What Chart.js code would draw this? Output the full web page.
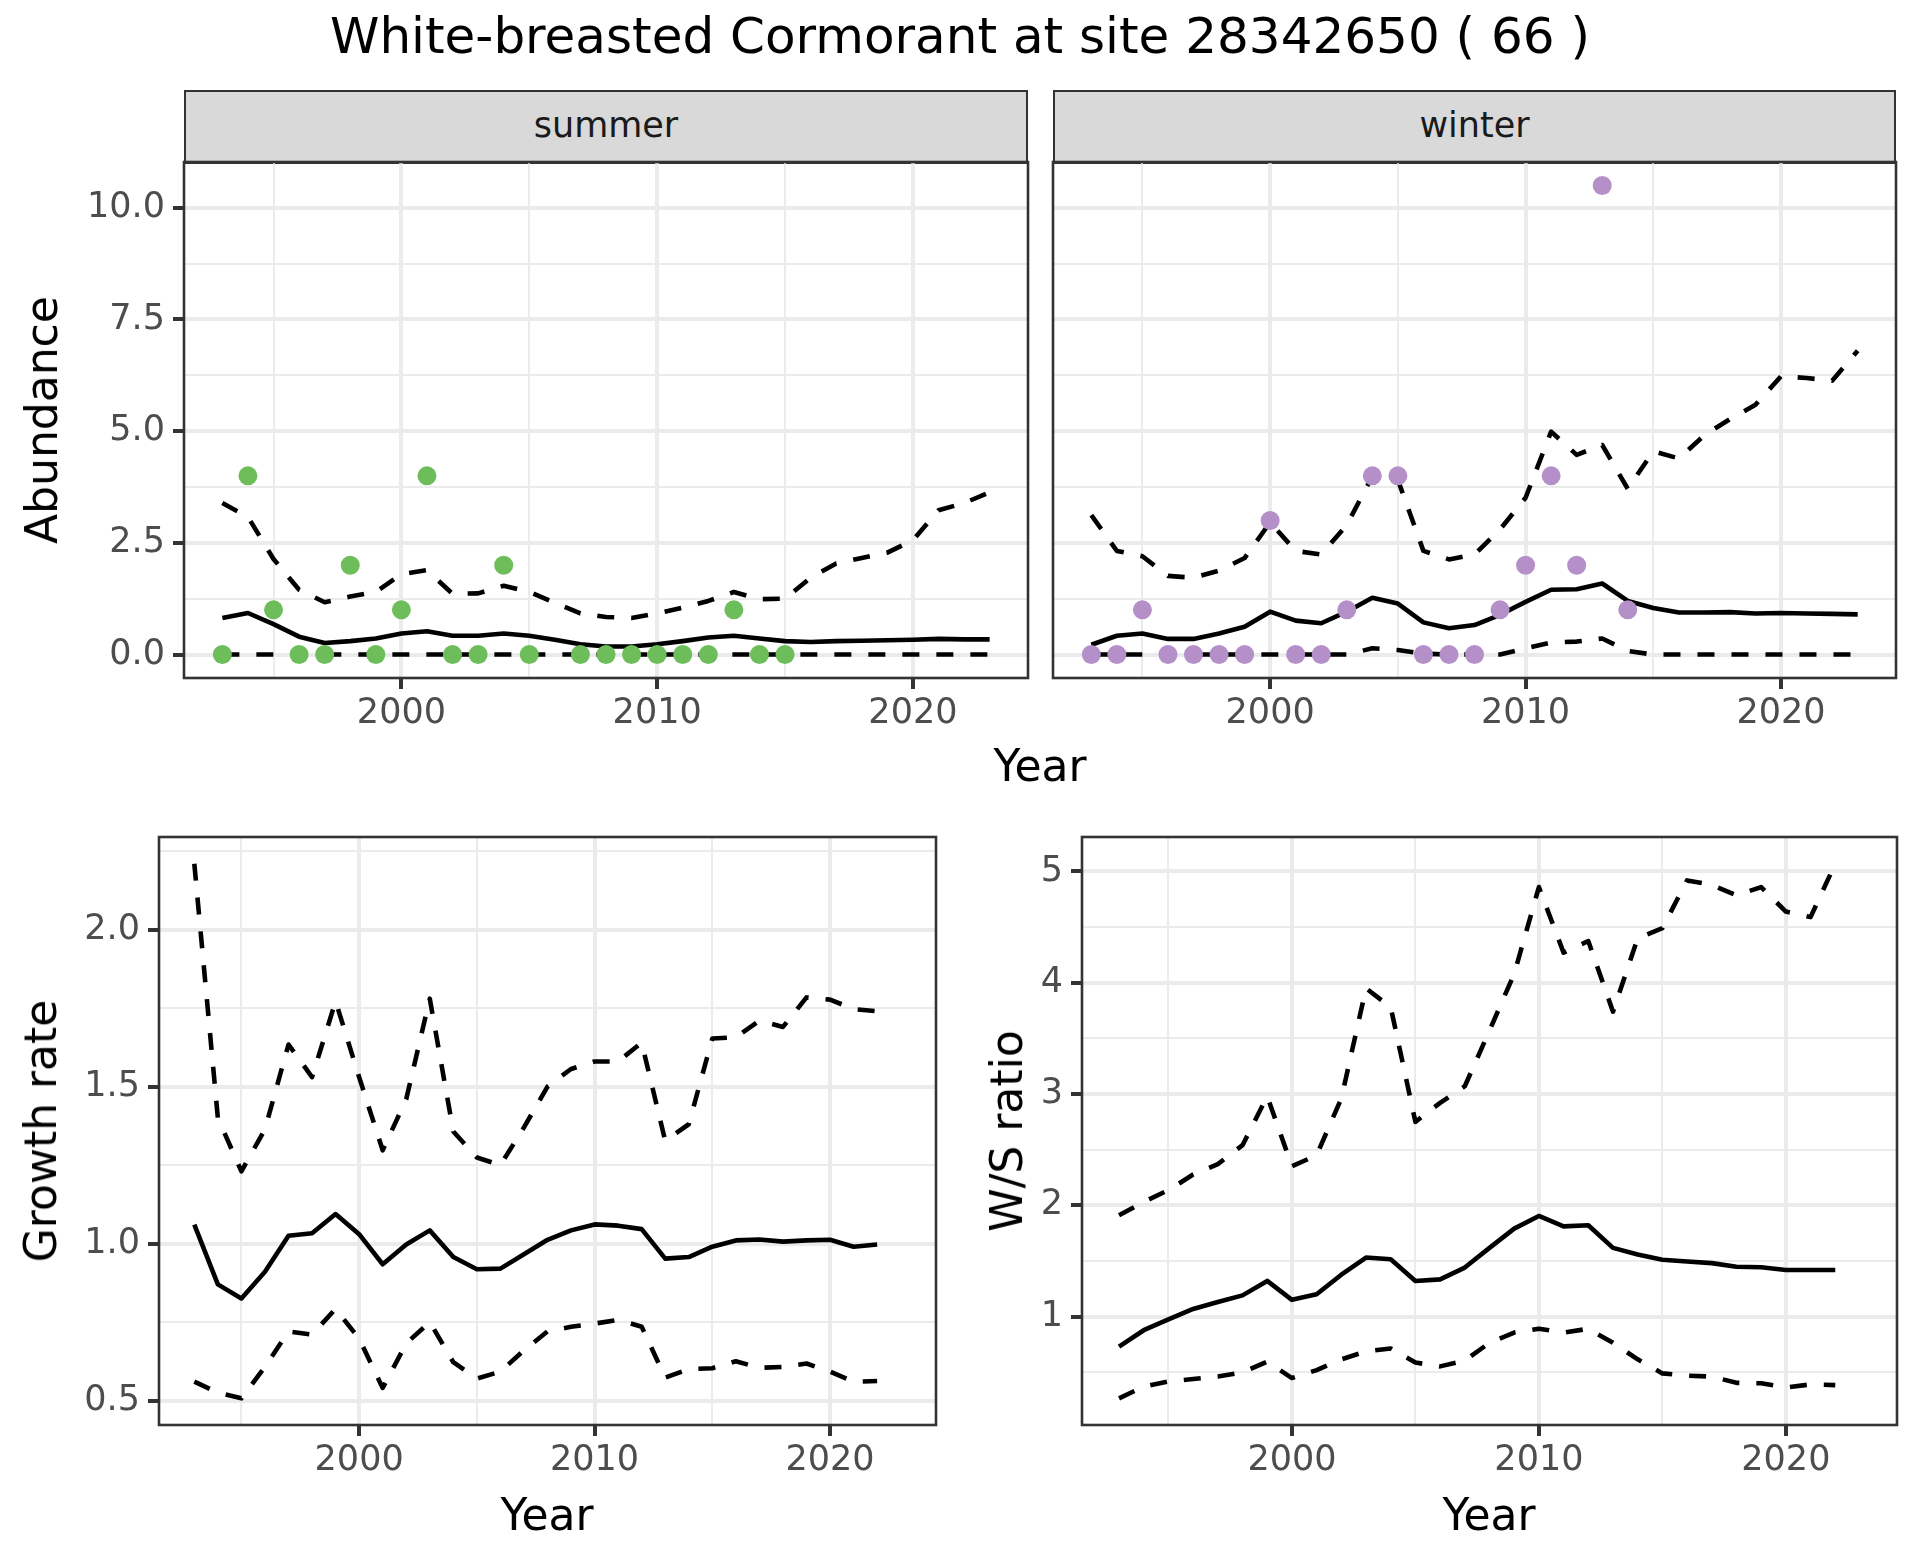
<!DOCTYPE html>
<html><head><meta charset="utf-8">
<script src="https://cdn.jsdelivr.net/npm/chart.js@4.4.1/dist/chart.umd.min.js"></script>
<style>
body{margin:0;background:#fff;width:1920px;height:1560px;position:relative;overflow:hidden;font-family:'DejaVu Sans',sans-serif;}
.t{position:absolute;white-space:nowrap;transform:translate(-50%,-50%);line-height:1;color:#000;}
.rot{transform:translate(-50%,-50%) rotate(-90deg);}
canvas{position:absolute;}
.strip{position:absolute;background:#D9D9D9;border:2.5px solid #333;box-sizing:border-box;}
</style></head><body>
<script>
// ---------------- data ----------------
const years = [1993,1994,1995,1996,1997,1998,1999,2000,2001,2002,2003,2004,2005,2006,2007,2008,2009,2010,2011,2012,2013,2014,2015,2016,2017,2018,2019,2020,2021,2022,2023];
const summerMean  = [0.82,0.93,0.68,0.40,0.26,0.30,0.36,0.47,0.52,0.42,0.42,0.47,0.42,0.33,0.23,0.18,0.18,0.23,0.30,0.38,0.42,0.36,0.30,0.28,0.30,0.31,0.32,0.33,0.35,0.34,0.34];
const summerUpper = [3.39,3.08,2.14,1.45,1.17,1.30,1.40,1.80,1.89,1.36,1.37,1.54,1.40,1.16,0.92,0.84,0.82,0.92,1.05,1.20,1.40,1.24,1.25,1.72,2.04,2.16,2.28,2.56,3.23,3.39,3.63];
const summerLower = [0,0,0,0,0,0,0,0,0,0,0,0,0,0,0,0,0,0,0,0,0,0,0,0,0,0,0,0,0,0,0];
const winterMean  = [0.22,0.42,0.47,0.35,0.35,0.47,0.62,0.96,0.76,0.70,0.96,1.27,1.14,0.72,0.59,0.66,0.89,1.18,1.45,1.46,1.59,1.20,1.04,0.94,0.94,0.95,0.92,0.93,0.92,0.91,0.90];
const winterUpper = [3.12,2.32,2.20,1.76,1.72,1.88,2.16,2.96,2.32,2.24,2.90,3.99,3.91,2.32,2.13,2.24,2.80,3.51,4.99,4.47,4.69,3.71,4.55,4.39,4.91,5.27,5.59,6.23,6.19,6.13,6.80];
const winterLower = [0,0,0,0,0,0,0,0,0,0,0,0.14,0.10,0.02,0,0,0,0.14,0.27,0.29,0.36,0.08,0,0,0,0,0,0,0,0,0];
const summerObsYears = [1993,1994,1995,1996,1997,1998,1999,2000,2001,2002,2003,2004,2005,2007,2008,2009,2010,2011,2012,2013,2014,2015];
const summerObs      = [0,4,1,0,0,2,0,1,4,0,0,2,0,0,0,0,0,0,0,1,0,0];
const winterObsYears = [1993,1994,1995,1996,1997,1998,1999,2000,2001,2002,2003,2004,2005,2006,2007,2008,2009,2010,2011,2012,2013,2014];
const winterObs      = [0,0,1,0,0,0,0,3,0,0,1,4,4,0,0,0,1,2,4,2,10.5,1];

const rateYears = [1993,1994,1995,1996,1997,1998,1999,2000,2001,2002,2003,2004,2005,2006,2007,2008,2009,2010,2011,2012,2013,2014,2015,2016,2017,2018,2019,2020,2021,2022];
const growthMean  = [1.06,0.87,0.825,0.91,1.025,1.033,1.094,1.03,0.934,0.997,1.042,0.957,0.918,0.92,0.966,1.012,1.042,1.061,1.057,1.046,0.952,0.957,0.99,1.01,1.013,1.006,1.01,1.012,0.99,0.997];
const growthUpper = [2.21,1.40,1.23,1.364,1.634,1.53,1.772,1.53,1.297,1.46,1.78,1.357,1.274,1.25,1.37,1.50,1.556,1.58,1.58,1.64,1.327,1.38,1.653,1.657,1.71,1.69,1.784,1.777,1.747,1.74];
const growthLower = [0.56,0.525,0.507,0.607,0.72,0.71,0.792,0.697,0.54,0.682,0.75,0.622,0.57,0.592,0.66,0.72,0.735,0.745,0.757,0.735,0.573,0.60,0.603,0.625,0.604,0.607,0.618,0.592,0.56,0.562];
const ratioMean  = [0.73,0.877,0.975,1.068,1.13,1.19,1.32,1.15,1.20,1.376,1.53,1.515,1.32,1.334,1.44,1.617,1.79,1.904,1.81,1.82,1.617,1.558,1.51,1.494,1.48,1.448,1.443,1.418,1.418,1.418];
const ratioUpper = [1.91,2.03,2.136,2.276,2.37,2.54,2.98,2.35,2.45,2.96,3.95,3.78,2.75,2.92,3.07,3.57,4.08,4.86,4.27,4.375,3.74,4.40,4.49,4.92,4.88,4.785,4.86,4.64,4.59,5.07];
const ratioLower = [0.265,0.37,0.417,0.438,0.46,0.497,0.595,0.447,0.518,0.615,0.687,0.713,0.586,0.552,0.603,0.764,0.856,0.89,0.856,0.89,0.764,0.615,0.489,0.468,0.46,0.404,0.40,0.362,0.39,0.383];

// tick values and labels
const yearTicks = [2000,2010,2020];
const yearMinorTicks = [1995,2005,2015];
const abundanceTicks = [0,2.5,5,7.5,10];
const abundanceTickLabels = ['0.0','2.5','5.0','7.5','10.0'];
const abundanceMinor = [1.25,3.75,6.25,8.75];
const growthTicks = [0.5,1.0,1.5,2.0];
const growthTickLabels = ['0.5','1.0','1.5','2.0'];
const growthMinor = [0.75,1.25,1.75,2.25];
const ratioTicks = [1,2,3,4,5];
const ratioTickLabels = ['1','2','3','4','5'];
const ratioMinor = [0.5,1.5,2.5,3.5,4.5];

const titleText = 'White-breasted Cormorant at site 28342650 ( 66 )';

// ---------------- helpers ----------------
function txt(s, x, y, size, cls, color){
  const d=document.createElement('div'); d.className='t'+(cls?' '+cls:'');
  d.textContent=s; d.style.left=x+'px'; d.style.top=y+'px'; d.style.fontSize=size+'px';
  if(color) d.style.color=color;
  document.body.appendChild(d);
}
function strip(s, l, t, r, b){
  const d=document.createElement('div'); d.className='strip';
  d.style.left=l+'px'; d.style.top=t+'px'; d.style.width=(r-l)+'px'; d.style.height=(b-t)+'px';
  document.body.appendChild(d);
  txt(s,(l+r)/2,(t+b)/2-2,35,'','#1A1A1A');
}
const pts = (xs, ys) => xs.map((x,i)=>({x:x,y:ys[i]}));
const borderPlugin = {id:'pborder', afterDraw(chart){
  const {ctx, chartArea:a} = chart; ctx.save(); ctx.strokeStyle='#333'; ctx.lineWidth=2.6;
  ctx.strokeRect(a.left,a.top,a.right-a.left,a.bottom-a.top); ctx.restore();
}};
const TICKFONT = {family:'DejaVu Sans', size:35};
function lineDs(xs, ys, dashed){
  return {data:pts(xs,ys), borderColor:'#000', borderWidth:4.6, borderDash:dashed?[17,17]:[],
    pointRadius:0, fill:false, tension:0, borderCapStyle:'butt', borderJoinStyle:'round', clip:false};
}
function pointDs(xs, ys, color){
  return {data:pts(xs,ys), showLine:false, pointRadius:9.5, pointBackgroundColor:color,
    pointBorderWidth:0, borderColor:color, pointHoverRadius:9.5};
}
function panel(rect, leftSpace, bottomSpace, yInfo, showY, datasets){
  const padT=34, padR=10;
  const c=document.createElement('canvas');
  const W=leftSpace+(rect.r-rect.l)+padR, H=padT+(rect.b-rect.t)+bottomSpace;
  c.width=W; c.height=H; c.style.width=W+'px'; c.style.height=H+'px';
  c.style.left=(rect.l-leftSpace)+'px'; c.style.top=(rect.t-padT)+'px';
  document.body.appendChild(c);
  const xAll = yearMinorTicks.concat(yearTicks).sort((a,b)=>a-b);
  const yAll = yInfo.minor.concat(yInfo.major).sort((a,b)=>a-b);
  const isMajX = v => yearTicks.indexOf(v)>=0;
  const isMajY = v => yInfo.major.indexOf(v)>=0;
  new Chart(c, {
    type:'line',
    data:{datasets:datasets},
    plugins:[borderPlugin],
    options:{
      responsive:false, animation:false, devicePixelRatio:1,
      layout:{padding:{top:padT,right:padR,left:0,bottom:0}},
      plugins:{legend:{display:false}, tooltip:{enabled:false}},
      events:[],
      scales:{
        x:{type:'linear', min:1991.5, max:2024.5,
          afterBuildTicks:s=>{s.ticks=xAll.map(v=>({value:v}));},
          afterFit:s=>{s.height=bottomSpace;},
          border:{display:false},
          grid:{color:'#EBEBEB', lineWidth:c=>isMajX(c.tick.value)?4:2,
            tickColor:c=>isMajX(c.tick.value)?'#333':'rgba(0,0,0,0)', tickLength:11, tickWidth:4},
          ticks:{autoSkip:false, maxRotation:0, padding:4, font:TICKFONT, color:'#4D4D4D',
            callback:v=>isMajX(v)?String(v):''}
        },
        y:{type:'linear', min:yInfo.min, max:yInfo.max,
          afterBuildTicks:s=>{s.ticks=yAll.map(v=>({value:v}));},
          afterFit:s=>{s.width=leftSpace;},
          border:{display:false},
          grid:{color:'#EBEBEB', lineWidth:c=>isMajY(c.tick.value)?4:2,
            tickColor:c=>(showY&&isMajY(c.tick.value))?'#333':'rgba(0,0,0,0)', tickLength:11, tickWidth:4},
          ticks:{display:showY, autoSkip:false, padding:8, font:TICKFONT, color:'#4D4D4D',
            callback:v=>{const i=yInfo.major.indexOf(v); return i>=0?yInfo.labels[i]:'';}}
        }
      }
    }
  });
}

// ---------------- layout ----------------
txt(titleText, 960, 36, 50);

const abund = {min:-0.525, max:11.025, major:abundanceTicks, labels:abundanceTickLabels, minor:abundanceMinor};
const sRect = {l:184, t:162, r:1028, b:678};
const wRect = {l:1053, t:162, r:1896, b:678};
strip('summer', 184, 90, 1028, 164);
strip('winter', 1053, 90, 1896, 164);

panel(sRect, 184, 80, abund, true, [
  pointDs(summerObsYears, summerObs, '#6DBD5B'),
  lineDs(years, summerUpper, true),
  lineDs(years, summerMean, false),
  lineDs(years, summerLower, true)
]);
panel(wRect, 20, 80, abund, false, [
  pointDs(winterObsYears, winterObs, '#B48FC8'),
  lineDs(years, winterUpper, true),
  lineDs(years, winterMean, false),
  lineDs(years, winterLower, true)
]);
txt('Abundance', 42, 420, 44, 'rot');
txt('Year', 1040, 766, 44);

const gRect = {l:159, t:837, r:936, b:1425};
const rRect = {l:1082, t:837, r:1897, b:1425};
panel(gRect, 159, 80, {min:0.422, max:2.295, major:growthTicks, labels:growthTickLabels, minor:growthMinor}, true, [
  lineDs(rateYears, growthUpper, true),
  lineDs(rateYears, growthMean, false),
  lineDs(rateYears, growthLower, true)
]);
panel(rRect, 160, 80, {min:0.025, max:5.31, major:ratioTicks, labels:ratioTickLabels, minor:ratioMinor}, true, [
  lineDs(rateYears, ratioUpper, true),
  lineDs(rateYears, ratioMean, false),
  lineDs(rateYears, ratioLower, true)
]);
txt('Growth rate', 41, 1131, 44, 'rot');
txt('W/S ratio', 1007, 1131, 44, 'rot');
txt('Year', 547, 1515, 44);
txt('Year', 1489, 1515, 44);
</script>
</body></html>
